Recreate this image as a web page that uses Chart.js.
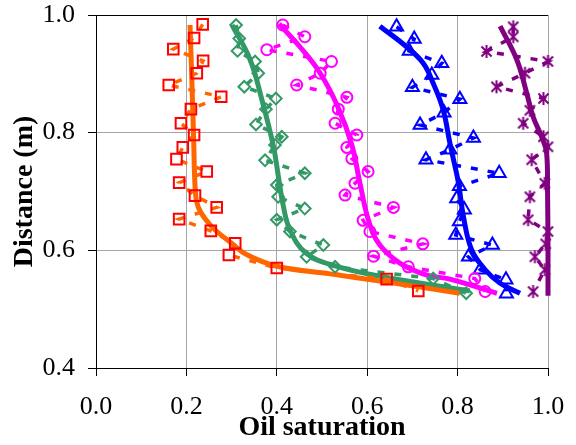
<!DOCTYPE html>
<html><head><meta charset="utf-8">
<script src="https://cdn.jsdelivr.net/npm/chart.js@4.4.1/dist/chart.umd.min.js"></script>
<style>html,body{margin:0;padding:0;background:#fff}#wrap{width:576px;height:445px}</style>
</head><body><div id="wrap"><canvas id="c" width="576" height="445"></canvas></div>
<script>
const xTickValues = [0, 0.2, 0.4, 0.6, 0.8, 1.0];
const yTickValues = [0.4, 0.6, 0.8, 1.0];
const xAxisTitle = 'Oil saturation';
const yAxisTitle = 'Distance (m)';

// Orange fit line + red square measurements
const orangeFitX = [0.208,0.212,0.216,0.220,0.226,0.241,0.263,0.300,0.333,0.400,0.518,0.644,0.805];
const orangeFitY = [0.983,0.890,0.790,0.697,0.674,0.654,0.635,0.612,0.593,0.573,0.560,0.546,0.527];
const orangeObsX = [0.236,0.217,0.171,0.237,0.223,0.161,0.277,0.210,0.188,0.217,0.192,0.178,0.245,0.184,0.219,0.267,0.184,0.254,0.308,0.294,0.400,0.643,0.713];
const orangeObsY = [0.984,0.961,0.942,0.922,0.901,0.881,0.861,0.840,0.816,0.796,0.775,0.755,0.734,0.715,0.693,0.673,0.653,0.633,0.612,0.592,0.570,0.551,0.531];

// Green
const greenFitX = [0.301,0.341,0.367,0.392,0.403,0.414,0.429,0.465,0.531,0.628,0.827];
const greenFitY = [0.983,0.924,0.856,0.779,0.728,0.677,0.635,0.595,0.573,0.556,0.531];
const greenObsX = [0.310,0.317,0.313,0.352,0.359,0.328,0.398,0.376,0.354,0.411,0.396,0.374,0.462,0.400,0.403,0.462,0.400,0.429,0.503,0.466,0.529,0.746,0.819];
const greenObsY = [0.983,0.960,0.939,0.921,0.901,0.878,0.858,0.840,0.814,0.793,0.779,0.753,0.731,0.711,0.691,0.671,0.652,0.632,0.609,0.589,0.572,0.552,0.527];

// Magenta
const magentaFitX = [0.405,0.451,0.496,0.535,0.566,0.584,0.604,0.628,0.673,0.732,0.783,0.887];
const magentaFitY = [0.985,0.946,0.901,0.844,0.779,0.714,0.648,0.609,0.578,0.558,0.551,0.527];
const magentaObsX = [0.413,0.462,0.378,0.521,0.496,0.444,0.555,0.536,0.529,0.577,0.555,0.566,0.602,0.573,0.551,0.658,0.591,0.606,0.723,0.614,0.691,0.838,0.861];
const magentaObsY = [0.983,0.963,0.941,0.921,0.901,0.881,0.860,0.840,0.816,0.796,0.775,0.756,0.734,0.714,0.694,0.673,0.651,0.632,0.611,0.590,0.572,0.552,0.530];

// Blue
const blueFitX = [0.628,0.687,0.724,0.746,0.768,0.783,0.791,0.802,0.813,0.831,0.861,0.894,0.938];
const blueFitY = [0.981,0.946,0.918,0.884,0.839,0.782,0.754,0.714,0.657,0.601,0.567,0.544,0.527];
const blueObsX = [0.665,0.704,0.693,0.765,0.743,0.700,0.805,0.770,0.717,0.835,0.783,0.730,0.892,0.804,0.798,0.815,0.804,0.796,0.877,0.824,0.850,0.907,0.908];
const blueObsY = [0.980,0.959,0.939,0.918,0.898,0.877,0.857,0.834,0.813,0.791,0.771,0.754,0.731,0.709,0.688,0.669,0.649,0.626,0.609,0.589,0.567,0.550,0.526];

// Purple
const purpleFitX = [0.894,0.931,0.953,0.967,0.986,0.997,0.999,1.000,1.000];
const purpleFitY = [0.981,0.924,0.867,0.827,0.793,0.765,0.700,0.600,0.523];
const purpleObsX = [0.923,0.923,0.864,1.000,0.949,0.886,0.990,0.960,0.945,0.990,1.000,0.964,0.993,0.960,0.956,1.000,0.995,0.971,0.993,0.967];
const purpleObsY = [0.980,0.963,0.938,0.921,0.901,0.878,0.858,0.838,0.816,0.793,0.776,0.754,0.714,0.691,0.652,0.632,0.611,0.589,0.567,0.530];

const colors = {orange:'#FF6600', red:'#FF0000', green:'#339966', magenta:'#FF00FF', blue:'#0000FF', purple:'#800080'};
const FONT = "'Liberation Serif', 'Times New Roman', serif";

function pts(xs, ys) { return xs.map((x, i) => ({x: x, y: ys[i]})); }

function starMarker(color, r, lw) {
  const c = document.createElement('canvas');
  const s = Math.ceil(2 * r + lw + 2);
  c.width = s; c.height = s;
  const g = c.getContext('2d');
  const m = s / 2, d = r * 0.78;
  g.strokeStyle = color; g.lineWidth = lw; g.lineCap = 'butt';
  g.beginPath();
  g.moveTo(m, m - r); g.lineTo(m, m + r);
  g.moveTo(m - d, m - d); g.lineTo(m + d, m + d);
  g.moveTo(m + d, m - d); g.lineTo(m - d, m + d);
  g.stroke();
  return c;
}

function fitDs(data, color) {
  return {data, showLine: true, borderColor: color, borderWidth: 5, pointRadius: 0,
    tension: 0.4, fill: false, order: 3, clip: false};
}
function dashDs(data, color) {
  return {data, showLine: true, borderColor: color, borderWidth: 3.5, borderDash: [7, 10],
    pointRadius: 0, tension: 0, fill: false, order: 2, clip: false};
}
function markDs(data, color, style, r) {
  return {data, showLine: false, pointStyle: style, pointRadius: r, pointBorderColor: color,
    borderColor: color, pointBackgroundColor: 'rgba(255,255,255,0)', backgroundColor: 'rgba(255,255,255,0)',
    pointBorderWidth: 2, order: 1, clip: false};
}

const datasets = [
  fitDs(pts(orangeFitX, orangeFitY), colors.orange),
  fitDs(pts(greenFitX, greenFitY), colors.green),
  fitDs(pts(magentaFitX, magentaFitY), colors.magenta),
  fitDs(pts(blueFitX, blueFitY), colors.blue),
  fitDs(pts(purpleFitX, purpleFitY), colors.purple),
  dashDs(pts(orangeObsX, orangeObsY), colors.orange),
  dashDs(pts(greenObsX, greenObsY), colors.green),
  dashDs(pts(magentaObsX, magentaObsY), colors.magenta),
  dashDs(pts(blueObsX, blueObsY), colors.blue),
  dashDs(pts(purpleObsX, purpleObsY), colors.purple),
  markDs(pts(orangeObsX, orangeObsY), colors.red, 'rect', 7.5),
  markDs(pts(greenObsX, greenObsY), colors.green, 'rectRot', 5.8),
  markDs(pts(magentaObsX, magentaObsY), colors.magenta, 'circle', 5.5),
  markDs(pts(blueObsX, blueObsY), colors.blue, 'triangle', 7.5),
  markDs(pts(purpleObsX, purpleObsY), colors.purple, starMarker(colors.purple, 6.5, 2), 6.5)
];

new Chart(document.getElementById('c'), {
  type: 'scatter',
  data: {datasets},
  options: {
    responsive: false, animation: false, devicePixelRatio: 1,
    layout: {autoPadding: false, padding: {top: 15, right: 28, left: 0, bottom: 0}},
    plugins: {legend: {display: false}, tooltip: {enabled: false}},
    scales: {
      x: {
        type: 'linear', min: 0, max: 1,
        afterBuildTicks: s => { s.ticks = xTickValues.map(v => ({value: v})); },
        afterFit: s => { s.height = 77; s.paddingLeft = 0; s.paddingRight = 0; },
        ticks: {callback: v => Number(v).toFixed(1), color: '#000', padding: 18, maxRotation: 0, autoSkip: false,
          font: {family: FONT, size: 26, lineHeight: 1}},
        grid: {color: '#a6a6a6', tickColor: '#000', tickLength: 8, lineWidth: 1},
        border: {color: '#000', width: 1},
        title: {display: true, text: xAxisTitle, color: '#000', padding: {top: 0, bottom: 0},
          font: {family: FONT, size: 28, weight: 'bold', lineHeight: 1.2}}
      },
      y: {
        type: 'linear', min: 0.4, max: 1.0,
        afterBuildTicks: s => { s.ticks = yTickValues.map(v => ({value: v})); },
        afterFit: s => { s.width = 96; s.paddingTop = 0; s.paddingBottom = 0; },
        ticks: {callback: v => Number(v).toFixed(1), color: '#000', padding: 13, autoSkip: false,
          font: {family: FONT, size: 26, lineHeight: 1}},
        grid: {color: c => (c.tick && Math.abs(c.tick.value - 1) < 1e-6) ? '#000' : '#a6a6a6',
          tickColor: '#000', tickLength: 8, lineWidth: 1},
        border: {color: '#000', width: 1},
        title: {display: true, text: yAxisTitle, color: '#000', padding: {top: 8, bottom: 0},
          font: {family: FONT, size: 28, weight: 'bold', lineHeight: 1.2}}
      }
    }
  }
});
</script></body></html>
